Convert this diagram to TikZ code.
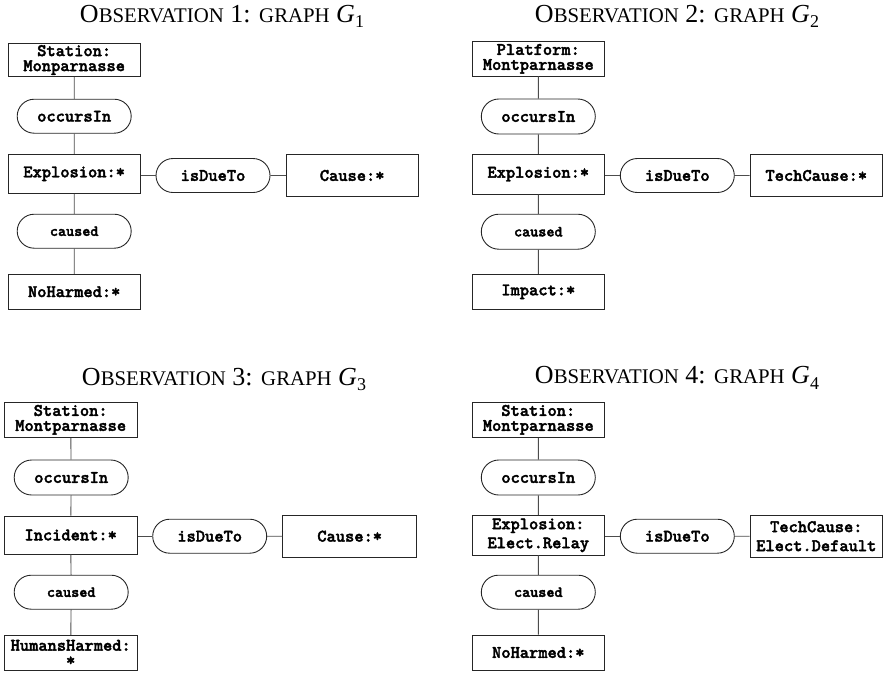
\documentclass[tikz,border=0pt]{standalone}
\usepackage{fontspec}
\setmainfont{Liberation Serif}
\newfontfamily\boxfont{lmmonolt10-bold.otf}[FakeBold=2.2]
\usetikzlibrary{shapes.misc}

% fake small caps title: "Observation n: graph G_n"
\newcommand{\obstitle}[1]{%
  {\fontsize{26}{26}\selectfont O{\fontsize{20.8}{20.8}\selectfont BSERVATION} #1: {\fontsize{20.8}{20.8}\selectfont GRAPH} \textit{G}\raisebox{-0.2em}{\fontsize{18}{18}\selectfont #1}}}

\tikzset{
  concept/.style={draw=black!85, line width=0.9pt, rectangle, inner sep=0pt,
    minimum width=132pt, minimum height=35pt, align=center,
    font=\boxfont\fontsize{17.6}{15}\selectfont},
  relation/.style={draw=black!85, line width=0.9pt, rounded rectangle, inner sep=0pt,
    minimum width=114pt, minimum height=34pt,
    font=\boxfont\fontsize{17.6}{15}\selectfont},
  smallrel/.style={relation, font=\boxfont\fontsize{15.4}{15}\selectfont},
  link/.style={draw=black!70, line width=0.9pt},
  title/.style={inner sep=0pt, anchor=base}
}

\begin{document}
\begin{tikzpicture}[x=1pt, y=-1pt]
\useasboundingbox (0,0) rectangle (885,673);

% ---------------- Observation 1 ----------------
\node[title] (t1) at (222,22.7) {\obstitle{1}};
\node[concept, minimum height=33.5pt] (s1) at (74.2,60) {Station:\\Monparnasse};
\node[relation] (o1) at (74.2,116.2) {occursIn};
\node[concept, minimum height=39pt] (e1) at (74.2,173.8) {Explosion:*};
\node[relation] (d1) at (213,175.5) {isDueTo};
\node[concept, minimum height=42.4pt] (c1) at (352.2,175.5) {Cause:*};
\node[smallrel] (k1) at (74.2,231.2) {caused};
\node[concept] (n1) at (74.2,291.7) {NoHarmed:*};
\draw[link] (s1) -- (o1);
\draw[link] (o1) -- (e1);
\draw[link] (e1) -- (k1);
\draw[link] (k1) -- (n1);
\draw[link] (e1.east |- d1) -- (d1);
\draw[link] (d1) -- (c1);

% ---------------- Observation 2 ----------------
\node[title] (t2) at (677,22.7) {\obstitle{2}};
\node[concept, minimum height=34.3pt] (s2) at (538.3,58.8) {Platform:\\Montparnasse};
\node[relation, minimum height=35pt] (o2) at (538.3,116.5) {occursIn};
\node[concept, minimum height=39.7pt] (e2) at (538.3,174.2) {Explosion:*};
\node[relation] (d2) at (677.3,175.5) {isDueTo};
\node[concept, minimum height=42.4pt, minimum width=132.7pt] (c2) at (816.3,175.5) {TechCause:*};
\node[smallrel, minimum height=35pt] (k2) at (538.3,231.7) {caused};
\node[concept] (n2) at (538.3,291.8) {Impact:*};
\draw[link] (s2) -- (o2);
\draw[link] (o2) -- (e2);
\draw[link] (e2) -- (k2);
\draw[link] (k2) -- (n2);
\draw[link] (e2.east |- d2) -- (d2);
\draw[link] (d2) -- (c2);

% ---------------- Observation 3 ----------------
\node[title] (t3) at (224,385.7) {\obstitle{3}};
\node[concept, minimum width=133.3pt] (s3) at (70.7,419.8) {Station:\\Montparnasse};
\node[relation, minimum height=35pt] (o3) at (71.2,477.5) {occursIn};
\node[concept, minimum width=133.3pt, minimum height=38pt] (e3) at (70.7,535) {Incident:*};
\node[relation] (d3) at (209.7,536.2) {isDueTo};
\node[concept, minimum height=42.3pt, minimum width=134pt] (c3) at (349.7,536.2) {Cause:*};
\node[smallrel] (k3) at (71.2,592.2) {caused};
\node[concept, minimum width=133.3pt] (n3) at (70.7,652.8) {HumansHarmed:\\*};
\draw[link] (s3) -- (o3);
\draw[link] (o3) -- (e3);
\draw[link] (e3) -- (k3);
\draw[link] (k3) -- (n3);
\draw[link] (e3.east |- d3) -- (d3);
\draw[link] (d3) -- (c3);

% ---------------- Observation 4 ----------------
\node[title] (t4) at (677,383.8) {\obstitle{4}};
\node[concept] (s4) at (538.3,419.8) {Station:\\Montparnasse};
\node[relation, minimum height=35pt] (o4) at (538.3,477.5) {occursIn};
\node[concept, minimum height=39.3pt] (e4) at (538.3,535.3) {Explosion:\\[4pt]Elect.Relay};
\node[relation] (d4) at (677.3,536.2) {isDueTo};
\node[concept, minimum height=42.3pt, minimum width=132.7pt] (c4) at (816.3,536.2) {TechCause:\\[4pt]Elect.Default};
\node[smallrel] (k4) at (538.3,592.2) {caused};
\node[concept] (n4) at (538.3,652.5) {NoHarmed:*};
\draw[link] (s4) -- (o4);
\draw[link] (o4) -- (e4);
\draw[link] (e4) -- (k4);
\draw[link] (k4) -- (n4);
\draw[link] (e4.east |- d4) -- (d4);
\draw[link] (d4) -- (c4);
\end{tikzpicture}
\end{document}
